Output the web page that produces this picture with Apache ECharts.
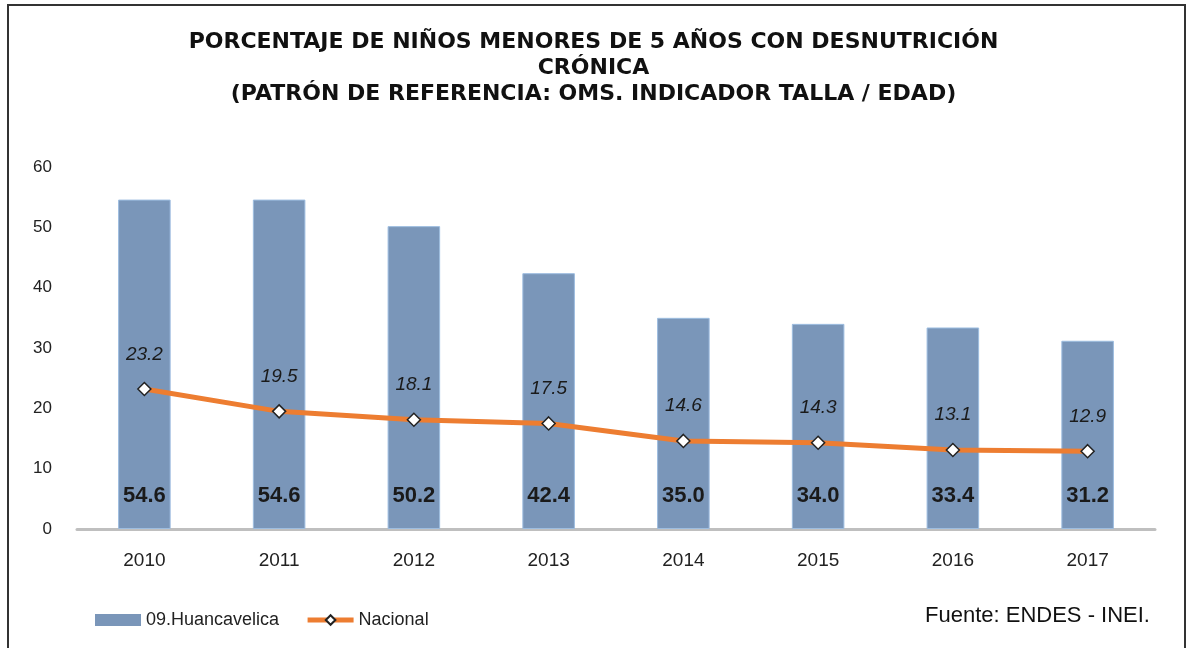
<!DOCTYPE html>
<html>
<head>
<meta charset="utf-8">
<script src="https://cdn.jsdelivr.net/npm/echarts@6/dist/echarts.min.js"></script>
<style>
  html, body { margin: 0; padding: 0; background: #fff; }
  #chart { width: 1187px; height: 648px; }
</style>
</head>
<body>
<div id="chart"></div>
<script>
const years = ['2010', '2011', '2012', '2013', '2014', '2015', '2016', '2017'];
const huancavelica = [54.6, 54.6, 50.2, 42.4, 35.0, 34.0, 33.4, 31.2];
const nacional = [23.2, 19.5, 18.1, 17.5, 14.6, 14.3, 13.1, 12.9];
const yTicks = [0, 10, 20, 30, 40, 50, 60];

const barColor = '#7a96b9', lineColor = '#ed7d31'
const sans = '"Liberation Sans", Arial, sans-serif'

let myChart = echarts.init(document.getElementById('chart'));
myChart.setOption({
  animation: false,
  title: {
    text: 'PORCENTAJE DE NIÑOS MENORES DE 5 AÑOS CON DESNUTRICIÓN\nCRÓNICA\n(PATRÓN DE REFERENCIA: OMS. INDICADOR TALLA / EDAD)',
    left: 'center',
    top: 29,
    padding: 0,
    textStyle: {
      fontFamily: '"DejaVu Sans", sans-serif',
      fontWeight: 'bold',
      fontSize: 22,
      lineHeight: 26,
      color: '#111'
    }
  },
  grid: {
    left: 77,
    right: 32,
    top: 167,
    bottom: 119
  },
  legend: {
    left: 95,
    top: 611,
    padding: 0,
    itemWidth: 46,
    itemHeight: 12,
    itemGap: 26,
    textStyle: { fontFamily: sans, fontSize: 18, color: '#222' },
    data: [
      { name: '09.Huancavelica', icon: 'rect', itemStyle: { borderWidth: 0 } },
      { name: 'Nacional', lineStyle: { width: 5, color: lineColor } }
    ]
  },
  graphic: [
    {
      type: 'rect',
      shape: { x: 8, y: 5, width: 1177, height: 660 },
      style: { fill: 'none', stroke: '#333', lineWidth: 2 }
    },
    {
      type: 'text',
      left: 925,
      top: 605,
      style: {
        text: 'Fuente: ENDES - INEI.',
        font: '22px "Liberation Sans", Arial, sans-serif',
        fill: '#111'
      }
    }
  ],
  xAxis: {
    type: 'category',
    data: years,
    axisTick: { show: false },
    axisLine: { lineStyle: { color: '#bfbfbf', width: 3 } },
    axisLabel: { margin: 22, fontFamily: sans, fontSize: 19, color: '#222' }
  },
  yAxis: {
    type: 'value',
    min: yTicks[0],
    max: yTicks[yTicks.length - 1],
    interval: 10,
    splitLine: { show: false },
    axisLine: { show: false },
    axisTick: { show: false },
    axisLabel: { margin: 25, fontFamily: sans, fontSize: 17, color: '#222' }
  },
  series: [
    {
      name: '09.Huancavelica',
      type: 'bar',
      data: huancavelica,
      barWidth: '39%',
      itemStyle: { color: barColor, borderColor: '#9dbde0', borderWidth: 1 },
      label: {
        show: true,
        position: 'insideBottom',
        distance: 22,
        formatter: p => p.value.toFixed(1),
        fontFamily: sans,
        fontWeight: 'bold',
        fontSize: 22,
        color: '#1a1a1a'
      },
      z: 1
    },
    {
      name: 'Nacional',
      type: 'line',
      data: nacional,
      symbol: 'diamond',
      symbolSize: 13,
      lineStyle: { color: lineColor, width: 5 },
      itemStyle: { color: '#fff', borderColor: '#222', borderWidth: 1.5 },
      label: {
        show: true,
        position: 'top',
        distance: 18,
        formatter: p => p.value.toFixed(1),
        fontFamily: sans,
        fontStyle: 'italic',
        fontSize: 19,
        color: '#1a1a1a'
      },
      z: 3
    }
  ]
});
</script>
</body>
</html>
